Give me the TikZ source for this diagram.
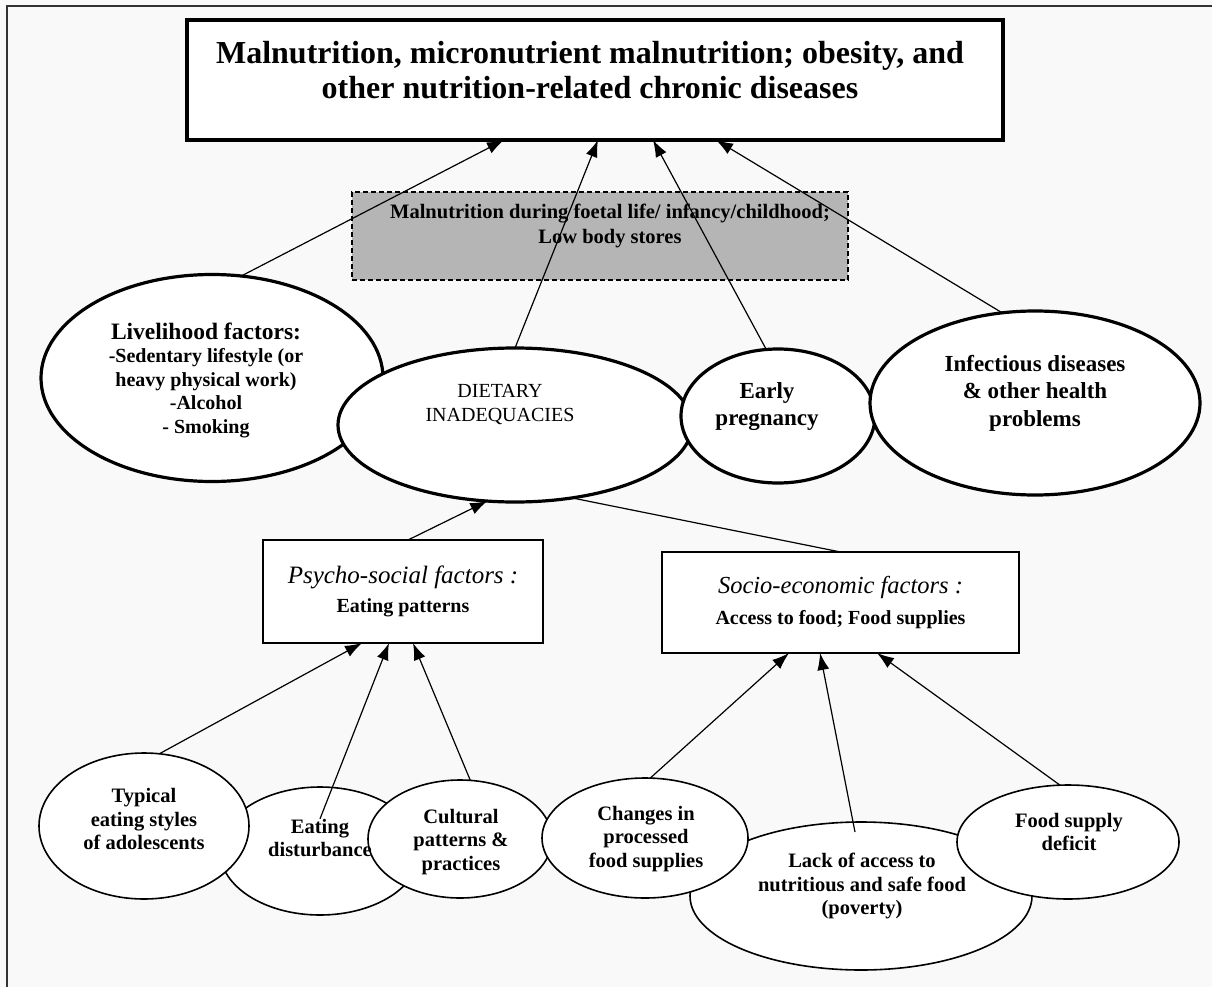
\documentclass[tikz,border=0pt]{standalone}
\usepackage{fontspec}
\setmainfont{Liberation Serif}
\usetikzlibrary{shapes.geometric,arrows.meta,calc}
\newcommand{\fsz}[2]{\fontsize{#1}{#2}\selectfont}
\begin{document}
\begin{tikzpicture}[x=1pt,y=-1pt,
  boxshape/.style={draw, rectangle, fill=white, inner sep=0pt, outer sep=0pt, align=center},
  ellshape/.style={draw, ellipse, fill=white, inner sep=0pt, outer sep=0pt},
  bigell/.style={ellshape, line width=3.2pt},
  smallell/.style={ellshape, line width=1.6pt},
  txt/.style={align=center, inner sep=0pt, text=black},
  bottxt/.style={txt, font=\bfseries\fsz{20.5}{23.5}},
  arr/.style={-{Latex[length=17pt,width=12pt]}, line width=1.2pt},
  link/.style={line width=1.2pt}]

\useasboundingbox (0,0) rectangle (1212,987);
\fill[gray!5] (0,0) rectangle (1212,987);
\draw[line width=2pt, black!80] (7,987) -- (7,6) -- (1212,6);

% ---- top box
\node[boxshape, line width=3.5pt, minimum width=816pt, minimum height=120pt] (top) at (595,80) {};
\node[txt, font=\bfseries\fsz{32}{35}] (topT) at (590,70)
  {Malnutrition, micronutrient malnutrition; obesity, and\\other nutrition-related chronic diseases};
\coordinate (t1) at (504,140);
\coordinate (t2) at (598,140);
\coordinate (t3) at (653,140);
\coordinate (t4) at (716,140);

% ---- grey box
\node[draw, dash pattern=on 5pt off 3pt, line width=1.4pt, fill=gray!58, inner sep=0pt, minimum width=496pt, minimum height=88pt] (grey) at (600,236) {};
\node[txt, font=\bfseries\fsz{20.5}{25}] (greyT) at (610,226)
  {Malnutrition during foetal life/ infancy/childhood;\\Low body stores};

% ---- upper ellipses
\node[bigell, minimum width=342pt, minimum height=207pt] (liv) at (212,378) {};
\node[txt, font=\bfseries\fsz{20}{23.5}] (livT) at (206,380)
  {{\fsz{23.5}{27}Livelihood factors:}\\-Sedentary lifestyle (or\\heavy physical work)\\-Alcohol\\- Smoking};
\node[bigell, minimum width=354pt, minimum height=154pt] (diet) at (515,425) {};
\node[txt, font=\fsz{20}{24}] (dietT) at (500,405) {DIETARY\\INADEQUACIES};
\node[bigell, minimum width=194pt, minimum height=134pt] (early) at (778,416) {};
\node[bigell, minimum width=330pt, minimum height=184pt] (inf) at (1035,403) {};
\node[txt, font=\bfseries\fsz{23}{27}] (earlyT) at (767,407) {Early\\pregnancy};
\node[txt, font=\bfseries\fsz{23}{27.5}] (infT) at (1035,393) {Infectious diseases\\\& other health\\problems};

% ---- middle boxes
\node[boxshape, line width=2.6pt, minimum width=280pt, minimum height=103pt] (psy) at (403,591.5)
  {{\itshape\fsz{25}{28}Psycho-social factors :}\\[9pt]{\bfseries\fsz{20}{24}Eating patterns}};
\node[boxshape, line width=2.6pt, minimum width=357pt, minimum height=101pt] (soc) at (840.5,602.5)
  {{\itshape\fsz{24.5}{28}Socio-economic factors :}\\[11pt]{\bfseries\fsz{20}{24}Access to food; Food supplies}};
\coordinate (p1) at (362,643);
\coordinate (p2) at (389,643);
\coordinate (p3) at (413,643);
\coordinate (s1) at (789,653);
\coordinate (s2) at (820,653);
\coordinate (s3) at (877,653);

% ---- bottom ellipses
\node[smallell, minimum width=200pt, minimum height=128pt] (eat) at (320,851) {};
\node[smallell, minimum width=210pt, minimum height=146pt] (typ) at (144,826) {};
\node[smallell, minimum width=184pt, minimum height=118pt] (cul) at (460,839) {};
\node[smallell, minimum width=342pt, minimum height=148pt] (lack) at (861,896) {};
\node[smallell, minimum width=206pt, minimum height=120pt] (chg) at (645,838) {};
\node[smallell, minimum width=222pt, minimum height=114pt] (fsd) at (1068,842) {};

\node[bottxt] (typT) at (144,819) {Typical\\eating styles\\of adolescents};
\node[bottxt] (eatT) at (320,838) {Eating\\disturbance};
\node[bottxt] (culT) at (461,842) {Cultural\\patterns \&\\practices};
\node[bottxt] (chgT) at (646,839) {Changes in\\processed\\food supplies};
\node[bottxt] (lackT) at (862,886) {Lack of access to\\nutritious and safe food\\(poverty)};
\node[bottxt] (fsdT) at (1069,832) {Food supply\\deficit};

% ---- connectors
\draw[arr] (liv.74) -- (t1);
\draw[arr] (diet.north) -- (t2);
\draw[arr] (early.100) -- (t3);
\draw[arr] (inf.110) -- (t4);

\draw[arr] ($(psy.north)+(5,0)$) -- (diet.250);
\draw[link] (diet.308) -- (soc.north);

\draw[arr] (typ.78) -- (p1);
\draw[arr] (eatT.north) -- (p2);
\draw[arr] (cul.80) -- (p3);

\draw[arr] (chg.85) -- (s1);
\draw[arr] ($(lack.north)+(-6,10)$) -- (s2);
\draw[arr] (fsd.98) -- (s3);
\end{tikzpicture}
\end{document}
